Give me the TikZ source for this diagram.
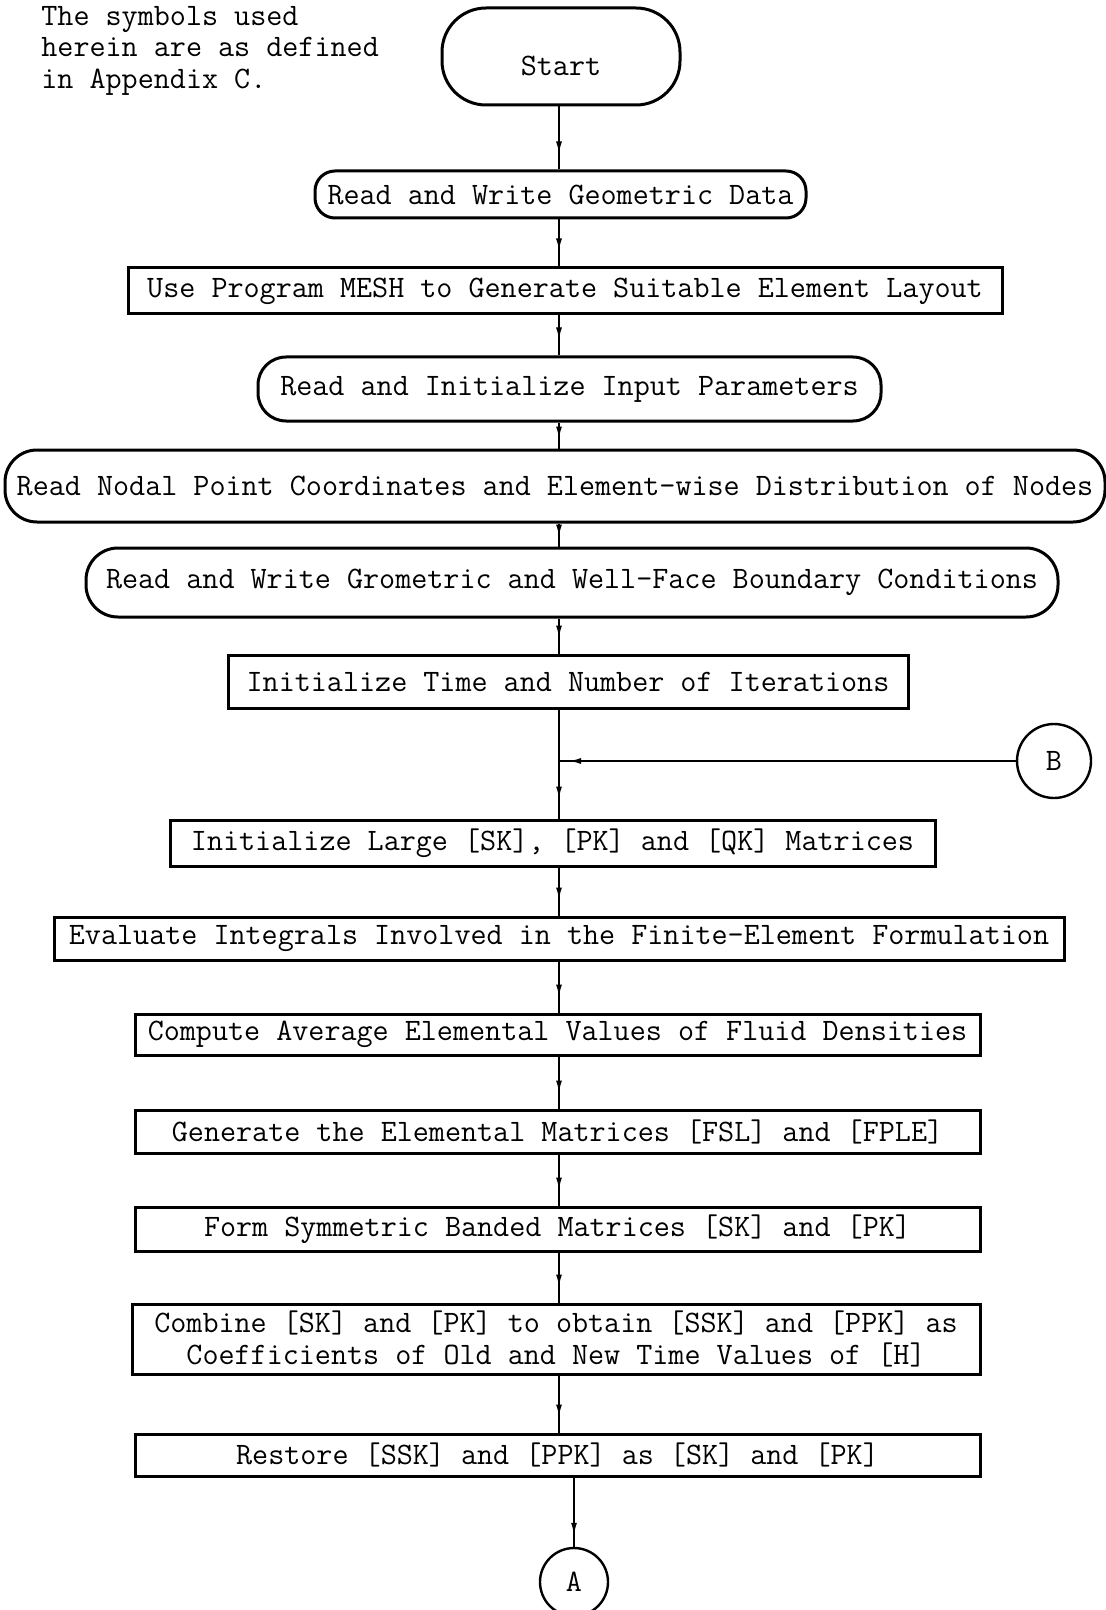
\documentclass[tikz,border=0pt]{standalone}
\usetikzlibrary{arrows.meta,decorations.markings}
\begin{document}
\begin{tikzpicture}[x=0.5pt,y=-0.5pt,
  every node/.style={font=\ttfamily\fontsize{15.6pt}{15.8pt}\selectfont, inner sep=2pt},
  proc/.style={draw, line width=1.5pt, rectangle},
  term/.style={draw, line width=1.5pt, rounded corners=#1},
  bw/.style={minimum width=#1*0.5pt},
  bh/.style={minimum height=#1*0.5pt},
  conn/.style={draw, line width=1.2pt, circle, inner sep=0pt},
  flow/.style={line width=0.8pt, postaction={decorate},
    decoration={markings, mark=at position -#1 with {\arrow{Latex[length=6pt,width=3pt]}}}},
  flow/.default=8pt]
\useasboundingbox (0,0) rectangle (1106,1610);

% axis of the main flow line
\coordinate (ax) at (559,0);

% note in the upper left corner
\node[anchor=base west] (n1) at (37,26) {The symbols used};
\node[anchor=base west] (n2) at (37,57) {herein are as defined};
\node[anchor=base west] (n3) at (37,88.5) {in Appendix C.};

% steps
\node[term=22pt, bw=238, bh=97, text height=19.3pt, text depth=0pt] (start) at (561,56.5) {Start};
\node[term=10pt, bw=491, bh=47] (geo) at (560.5,194.5) {Read and Write Geometric Data};
\node[proc, bw=874, bh=46] (mesh) at (565,291) {Use Program MESH to Generate Suitable Element Layout};
\node[term=14pt, bw=623, bh=64] (init) at (569.5,389) {Read and Initialize Input Parameters};
\node[term=16pt, bw=1100, bh=72] (nodal) at (555,486) {Read Nodal Point Coordinates and Element-wise Distribution of Nodes};
\node[term=16pt, bw=972, bh=69] (bc) at (572,582.5) {Read and Write Grometric and Well-Face Boundary Conditions};
\node[proc, bw=680, bh=53] (time) at (568,681.5) {Initialize Time and Number of Iterations};
\node[conn, minimum size=37pt] (B) at (1054,761) {B};
\node[proc, bw=765, bh=46] (large) at (552.5,843) {Initialize Large [SK], [PK] and [QK] Matrices};
\node[proc, bw=1010, bh=43] (integ) at (559,938.5) {Evaluate Integrals Involved in the Finite-Element Formulation};
\node[proc, bw=845, bh=41] (avg) at (557.5,1034.5) {Compute Average Elemental Values of Fluid Densities};
\node[proc, bw=845, bh=43] (elem) at (557.5,1131.5) {Generate the Elemental Matrices [FSL] and [FPLE]};
\node[proc, bw=845, bh=44] (band) at (557.5,1229) {Form Symmetric Banded Matrices [SK] and [PK]};
\node[proc, bw=848, bh=70, align=center] (comb) at (556,1339) {Combine [SK] and [PK] to obtain [SSK] and [PPK] as\\Coefficients of Old and New Time Values of [H]};
\node[proc, bw=845, bh=42] (rest) at (557.5,1455) {Restore [SSK] and [PPK] as [SK] and [PK]};
\node[conn, minimum size=34pt] (A) at (574,1582) {A};

% connectors
\draw[flow] (start.south -| ax) -- (geo.north -| ax);
\draw[flow] (geo.south -| ax) -- (mesh.north -| ax);
\draw[flow] (mesh.south -| ax) -- (init.north -| ax);
\draw[flow=5pt] (init.south -| ax) -- (nodal.north -| ax);
\draw[flow=5pt] (nodal.south -| ax) -- (bc.north -| ax);
\draw[flow] (bc.south -| ax) -- (time.north -| ax);
\draw[flow=10pt] (time.south -| ax) -- (large.north -| ax);
\draw[flow=5pt] (B.west) -- (B.west -| ax);
\draw[flow] (large.south -| ax) -- (integ.north -| ax);
\draw[flow] (integ.south -| ax) -- (avg.north -| ax);
\draw[flow] (avg.south -| ax) -- (elem.north -| ax);
\draw[flow] (elem.south -| ax) -- (band.north -| ax);
\draw[flow] (band.south -| ax) -- (comb.north -| ax);
\draw[flow] (comb.south -| ax) -- (rest.north -| ax);
\draw[flow=6pt] (rest.south -| A) -- (A.north);
\end{tikzpicture}
\end{document}
